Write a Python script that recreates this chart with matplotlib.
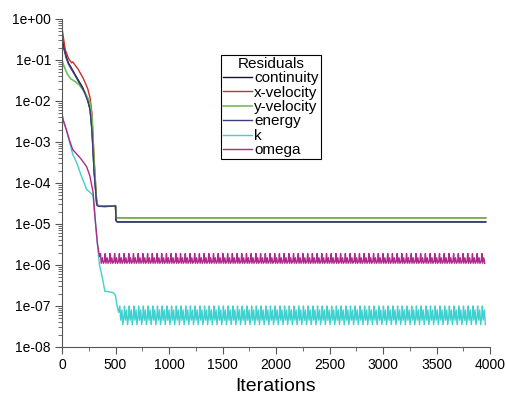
import numpy as np
import matplotlib
matplotlib.use("Agg")
import matplotlib.pyplot as plt
import matplotlib.ticker as mtick

plt.rcParams['font.family'] = ['Liberation Sans', 'DejaVu Sans']

# transient part of each residual (iteration, value)
cont_it = [0, 10, 40, 60, 90, 120, 150, 190, 215, 240, 262, 280, 300, 325, 340, 400, 450, 500, 505, 515, 3960]
cont_val = [0.45, 0.25, 0.12, 0.085, 0.062, 0.045, 0.033, 0.022, 0.016, 0.011, 0.0065, 0.002, 2e-4, 3.0e-5, 2.8e-5, 2.7e-5, 2.75e-5, 2.8e-5, 1.2e-5, 1.12e-5, 1.12e-5]

xvel_it = [0, 10, 30, 60, 90, 100, 150, 200, 240, 262, 280, 300, 325, 340, 400, 500, 505, 515, 3960]
xvel_val = [0.6, 0.4, 0.18, 0.11, 0.085, 0.09, 0.06, 0.035, 0.02, 0.012, 0.005, 4e-4, 3.1e-5, 2.8e-5, 2.75e-5, 2.8e-5, 1.5e-5, 1.42e-5, 1.42e-5]

yvel_it = [0, 10, 30, 50, 80, 120, 160, 200, 240, 262, 280, 300, 325, 340, 400, 500, 505, 515, 3960]
yvel_val = [0.1, 0.08, 0.06, 0.045, 0.035, 0.03, 0.025, 0.018, 0.012, 0.009, 0.004, 3e-4, 3.0e-5, 2.8e-5, 2.7e-5, 2.8e-5, 1.5e-5, 1.4e-5, 1.4e-5]

energy_it = [0, 10, 40, 60, 90, 120, 150, 190, 215, 240, 262, 280, 300, 325, 340, 400, 450, 500, 505, 515, 3960]
energy_val = [0.35, 0.22, 0.11, 0.08, 0.058, 0.043, 0.031, 0.021, 0.015, 0.010, 0.006, 0.0018, 1.8e-4, 2.9e-5, 2.7e-5, 2.65e-5, 2.7e-5, 2.75e-5, 1.2e-5, 1.13e-5, 1.13e-5]

k_it = [0, 10, 40, 70, 100, 140, 180, 230, 260, 290, 310, 330, 350, 380, 400, 450, 480, 500, 515, 530]
k_val = [4.5e-3, 3.5e-3, 2e-3, 1e-3, 5e-4, 3e-4, 1.5e-4, 7e-5, 6e-5, 5e-5, 1.3e-5, 3.5e-6, 1e-6, 4.5e-7, 2.3e-7, 2.2e-7, 2.1e-7, 1.8e-7, 1e-7, 7e-8]

omega_it = [0, 10, 40, 70, 100, 140, 180, 230, 260, 290, 310, 330, 350]
omega_val = [5e-3, 3.5e-3, 2e-3, 1.1e-3, 6.5e-4, 5e-4, 3.8e-4, 2.5e-4, 1.5e-4, 6e-5, 1.3e-5, 3.5e-6, 1.6e-6]

# one oscillation period (about 44 iterations), repeated until the end
period = 44
k_cycle_pos = [0.0, 0.2, 0.45, 0.65, 0.9]
k_cycle = [1.0e-7, 4.5e-8, 8e-8, 3.5e-8, 6e-8]
omega_cycle_pos = [0.0, 0.15, 0.4, 0.6, 0.85]
omega_cycle = [1.9e-6, 1.1e-6, 1.5e-6, 1.1e-6, 1.25e-6]
k_osc_start, omega_osc_start, osc_end = 540, 360, 3960


def periodic(start, pos, vals):
    its, out = [], []
    t = start
    while t < osc_end:
        for p, v in zip(pos, vals):
            if t + p * period <= osc_end:
                its.append(t + p * period)
                out.append(v)
        t += period
    return its, out


fig = plt.figure(figsize=(5.07, 4.03), dpi=100)
ax = fig.add_axes([0.1223, 0.139, 0.8442, 0.8139])

kx, ky = periodic(k_osc_start, k_cycle_pos, k_cycle)
ox, oy = periodic(omega_osc_start, omega_cycle_pos, omega_cycle)

ax.plot(cont_it, cont_val, color='#14142e', lw=1.0, label='continuity')
ax.plot(xvel_it, xvel_val, color='#c8302a', lw=1.0, label='x-velocity')
ax.plot(yvel_it, yvel_val, color='#6fbf5a', lw=1.2, label='y-velocity')
ax.plot(energy_it, energy_val, color='#3a3f7a', lw=1.0, label='energy')
ax.plot(k_it + kx, k_val + ky, color='#3fd0d0', lw=1.0, label='k')
ax.plot(omega_it + ox, omega_val + oy, color='#b0288c', lw=1.0, label='omega')

ax.set_yscale('log')
ax.set_ylim(1e-8, 1)
ax.set_xlim(0, 4000)
ax.xaxis.set_major_locator(mtick.MultipleLocator(500))
ax.xaxis.set_minor_locator(mtick.MultipleLocator(250))
ax.yaxis.set_major_locator(mtick.LogLocator(base=10, numticks=20))
ax.yaxis.set_minor_locator(mtick.LogLocator(base=10, subs=np.arange(2, 10), numticks=20))
ax.yaxis.set_minor_formatter(mtick.NullFormatter())
ax.yaxis.set_major_formatter(mtick.FuncFormatter(lambda v, p: '%.0e' % v))

for s in ['top', 'right']:
    ax.spines[s].set_visible(False)
for s in ['left', 'bottom']:
    ax.spines[s].set_color('#555555')
ax.tick_params(which='major', length=5, width=0.8, color='#555555', labelsize=10, pad=3)
ax.tick_params(which='minor', length=3, width=0.6, color='#555555')

ax.set_xlabel('Iterations', fontsize=14, labelpad=4)

leg = ax.legend(title='Residuals', loc='upper left', bbox_to_anchor=(0.436, 0.864),
                bbox_transform=fig.transFigure, fontsize=11, title_fontsize=11,
                frameon=True, fancybox=False, edgecolor='black', framealpha=1,
                handlelength=1.9, handletextpad=0.15, labelspacing=0.03,
                borderpad=0.12, borderaxespad=0)
leg.get_frame().set_linewidth(0.8)

fig.savefig('out.png', dpi=100)
